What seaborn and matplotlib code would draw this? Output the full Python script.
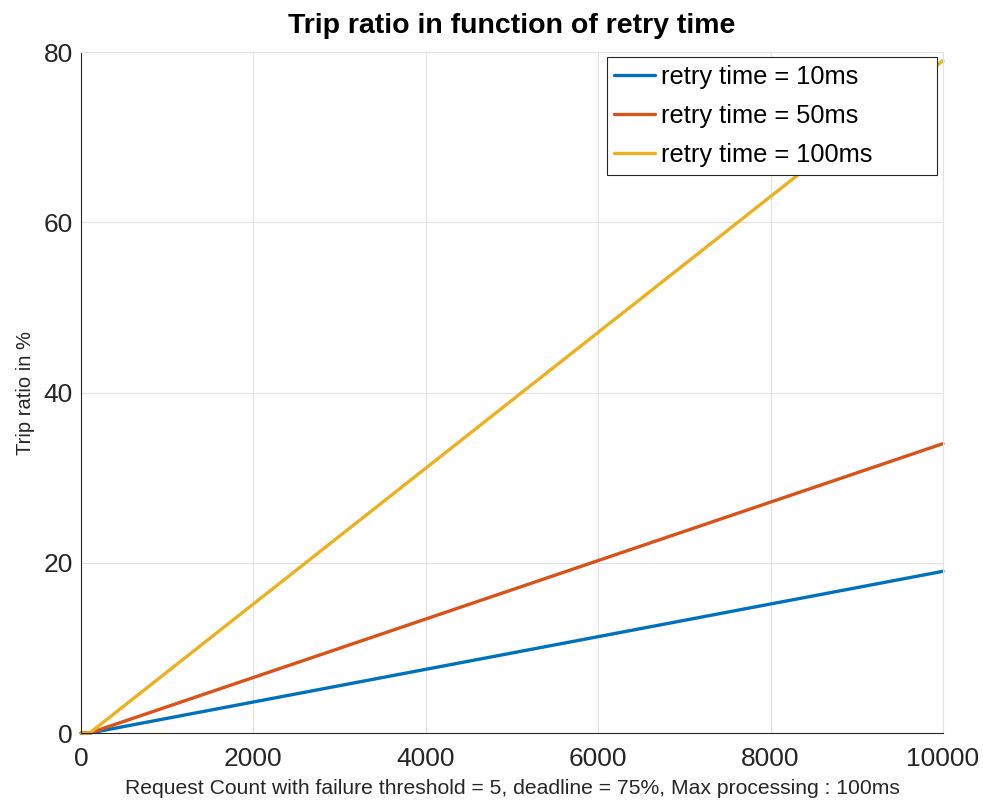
import matplotlib
matplotlib.use("Agg")
import matplotlib.pyplot as plt
import seaborn as sns
import pandas as pd

# Request counts and trip ratios (%) for each retry time
request_count = [0, 100, 10000]
trip_10ms = [0, 0, 19.0]
trip_50ms = [0, 0, 34.0]
trip_100ms = [0, 0, 79.0]
series_labels = ["retry time = 10ms", "retry time = 50ms", "retry time = 100ms"]
colors = ["#0072BD", "#D95319", "#EDB120"]
x_ticks = [0, 2000, 4000, 6000, 8000, 10000]
y_ticks = [0, 20, 40, 60, 80]

rows = []
for label, values in zip(series_labels, [trip_10ms, trip_50ms, trip_100ms]):
    for x, y in zip(request_count, values):
        rows.append({"count": x, "ratio": y, "series": label})
df = pd.DataFrame(rows)

sns.set_style("white")
plt.rcParams["font.family"] = ["Liberation Sans", "DejaVu Sans"]

fig = plt.figure(figsize=(9.83, 8.02), dpi=100)
ax = fig.add_axes([0.0824, 0.086, 0.8769, 0.849])

sns.lineplot(data=df, x="count", y="ratio", hue="series", hue_order=series_labels,
             palette=colors, linewidth=2.4, ax=ax, legend=True, clip_on=False)

ax.set_xlim(0, 10000)
ax.set_ylim(0, 80)
ax.set_xticks(x_ticks)
ax.set_yticks(y_ticks)
ax.tick_params(axis="both", which="both", direction="in", length=5, width=0.8,
               labelsize=19, colors="#262626", top=False, right=False)
ax.tick_params(axis="x", pad=10)
ax.tick_params(axis="y", pad=6)
ax.grid(True, color="#e3e3e3", linewidth=0.8)
ax.set_axisbelow(True)
for side in ["left", "bottom"]:
    ax.spines[side].set_color("#262626")
    ax.spines[side].set_linewidth(0.8)
for side in ["top", "right"]:
    ax.spines[side].set_color("#e3e3e3")
    ax.spines[side].set_linewidth(0.8)

ax.set_xlabel("Request Count with failure threshold = 5, deadline = 75%, Max processing : 100ms",
              fontsize=15.2, color="#262626", labelpad=6)
ax.set_ylabel("Trip ratio in %", fontsize=14.5, color="#262626", labelpad=6)
ax.set_title("Trip ratio in function of retry time", fontsize=20.5, fontweight="bold",
             color="black", pad=14)

leg = ax.legend(loc="upper right", bbox_to_anchor=(0.610, 0.5, 0.383, 0.4927),
                mode="expand", borderaxespad=0, fontsize=18.3, frameon=True,
                fancybox=False, edgecolor="#262626", framealpha=1,
                handlelength=1.6, handletextpad=0.25, labelspacing=0.6,
                borderpad=0.3)
leg.get_frame().set_linewidth(0.8)
for text in leg.get_texts():
    text.set_color("black")
for line in leg.get_lines():
    line.set_linewidth(2.4)

fig.savefig("out.png", dpi=100)
